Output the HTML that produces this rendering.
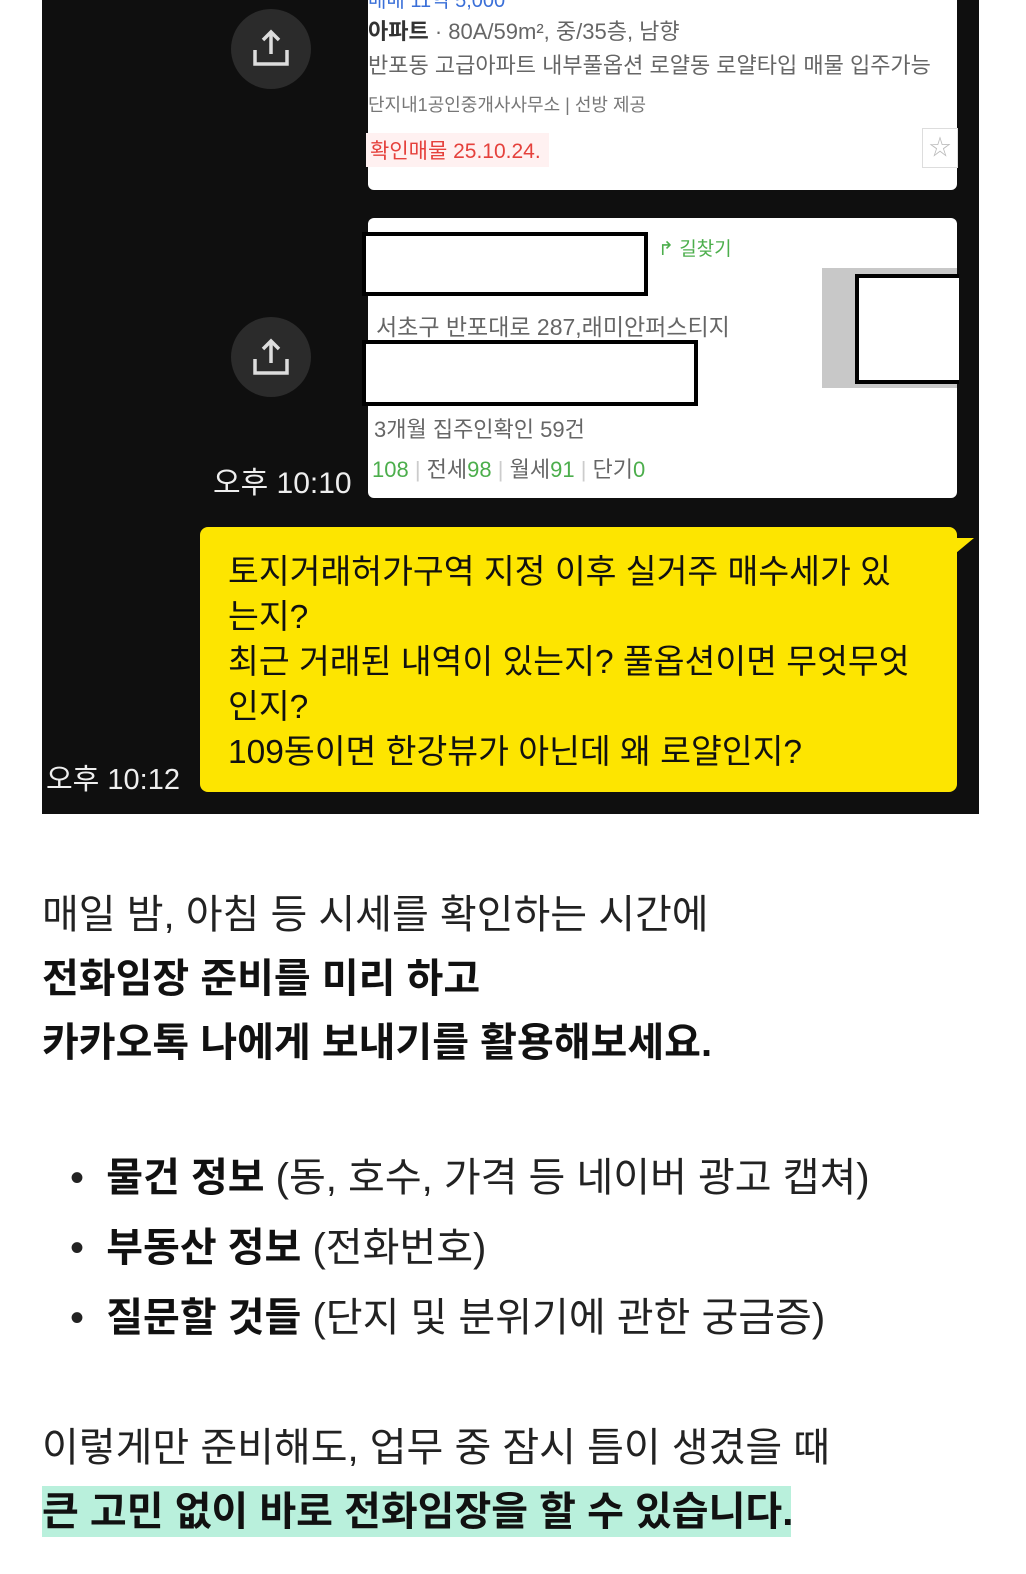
<!DOCTYPE html>
<html><head><meta charset="utf-8"><style>
*{margin:0;padding:0;box-sizing:border-box}
body{width:1026px;height:1574px;background:#fff;position:relative;overflow:hidden;font-family:"Liberation Sans","Noto Sans CJK KR",sans-serif;color:#222}
.a{position:absolute;white-space:nowrap}
#dark{position:absolute;left:42px;top:0;width:937px;height:814px;background:#0f0f0f}
.card{position:absolute;background:#fff;border-radius:6px}
.circ{position:absolute;width:80px;height:80px;border-radius:50%;background:#2b2b2b}
.g{color:#666;font-size:21px}
.box{position:absolute;border:4px solid #000;background:#fff}
.t{font-size:40px;line-height:64px;color:#222}
.b{font-weight:bold;color:#111}
</style></head><body>
<div id="dark"></div>
<div class="circ" style="left:231px;top:9px"></div>
<div class="circ" style="left:231px;top:317px"></div>
<svg class="a" style="left:251px;top:28px" width="40" height="40" viewBox="0 0 40 40"><path d="M20 4V26M12 12L20 4L28 12M4 22V36H36V22" stroke="#ddd" stroke-width="3.5" fill="none"/></svg>
<svg class="a" style="left:251px;top:337px" width="40" height="40" viewBox="0 0 40 40"><path d="M20 4V26M12 12L20 4L28 12M4 22V36H36V22" stroke="#ddd" stroke-width="3.5" fill="none"/></svg>
<div class="card" style="left:368px;top:-10px;width:589px;height:200px"></div>
<div class="a" style="left:368px;top:-16px;font-size:20px;color:#3a6fd8">매매 11억 5,000</div>
<div class="a g" style="left:368px;top:14px;font-size:22px"><b style="color:#333">아파트</b> · 80A/59m², 중/35층, 남향</div>
<div class="a g" style="left:368px;top:48px;font-size:22px">반포동 고급아파트 내부풀옵션 로얄동 로얄타입 매물 입주가능</div>
<div class="a" style="left:368px;top:91px;font-size:18px;color:#777">단지내1공인중개사사무소 | 선방 제공</div>
<div class="a" style="left:366px;top:133px;font-size:21px;color:#e5413c;background:#fff1f1;padding:2px 8px 2px 4px">확인매물 25.10.24.</div>
<div class="a" style="left:922px;top:128px;width:36px;height:40px;border:1px solid #ddd;color:#bbb;font-size:22px;text-align:center;line-height:38px">☆</div>
<div class="card" style="left:368px;top:218px;width:589px;height:280px"></div>
<div class="box" style="left:362px;top:232px;width:286px;height:64px"></div>
<div class="a" style="left:658px;top:234px;font-size:19px;color:#4cae4c">↱ 길찾기</div>
<div class="a" style="left:822px;top:268px;width:135px;height:120px;background:#c8c8c8"></div>
<div class="box" style="left:855px;top:274px;width:104px;height:110px;border-right:none"></div>
<div class="a g" style="left:376px;top:308px;font-size:23px">서초구 반포대로 287,래미안퍼스티지</div>
<div class="box" style="left:362px;top:340px;width:336px;height:66px"></div>
<div class="a g" style="left:374px;top:412px;font-size:22px">3개월 집주인확인 59건</div>
<div class="a" style="left:372px;top:452px;font-size:22px;color:#666"><span style="color:#4cae4c">108</span> <span style="color:#ccc">|</span> 전세<span style="color:#4cae4c">98</span> <span style="color:#ccc">|</span> 월세<span style="color:#4cae4c">91</span> <span style="color:#ccc">|</span> 단기<span style="color:#4cae4c">0</span></div>
<div class="a" style="left:213px;top:458px;font-size:30px;color:#eee">오후 10:10</div>
<div class="a" style="left:200px;top:527px;width:757px;height:265px;background:#fde500;border-radius:8px"></div>
<div class="a" style="left:950px;top:538px;width:0;height:0;border-left:24px solid #fde500;border-bottom:20px solid transparent"></div>
<div class="a" style="left:228px;top:550px;font-size:33.5px;line-height:45px;color:#111">토지거래허가구역 지정 이후 실거주 매수세가 있<br>는지?<br>최근 거래된 내역이 있는지? 풀옵션이면 무엇무엇<br>인지?<br>109동이면 한강뷰가 아닌데 왜 로얄인지?</div>
<div class="a" style="left:46px;top:756px;font-size:29px;color:#eee">오후 10:12</div>
<div class="a t" style="left:42px;top:883px">매일 밤, 아침 등 시세를 확인하는 시간에<br><span class="b">전화임장 준비를 미리 하고</span><br><span class="b">카카오톡 나에게 보내기를 활용해보세요.</span></div>
<div class="a t" style="left:70px;top:1143px;line-height:70px">•&nbsp; <span class="b">물건 정보</span> (동, 호수, 가격 등 네이버 광고 캡쳐)<br>•&nbsp; <span class="b">부동산 정보</span> (전화번호)<br>•&nbsp; <span class="b">질문할 것들</span> (단지 및 분위기에 관한 궁금증)</div>
<div class="a" style="left:42px;top:1486px;width:749px;height:51px;background:#b9f0dc"></div>
<div class="a t" style="left:42px;top:1416px">이렇게만 준비해도, 업무 중 잠시 틈이 생겼을 때<br><span class="b">큰 고민 없이 바로 전화임장을 할 수 있습니다.</span></div>
</body></html>
